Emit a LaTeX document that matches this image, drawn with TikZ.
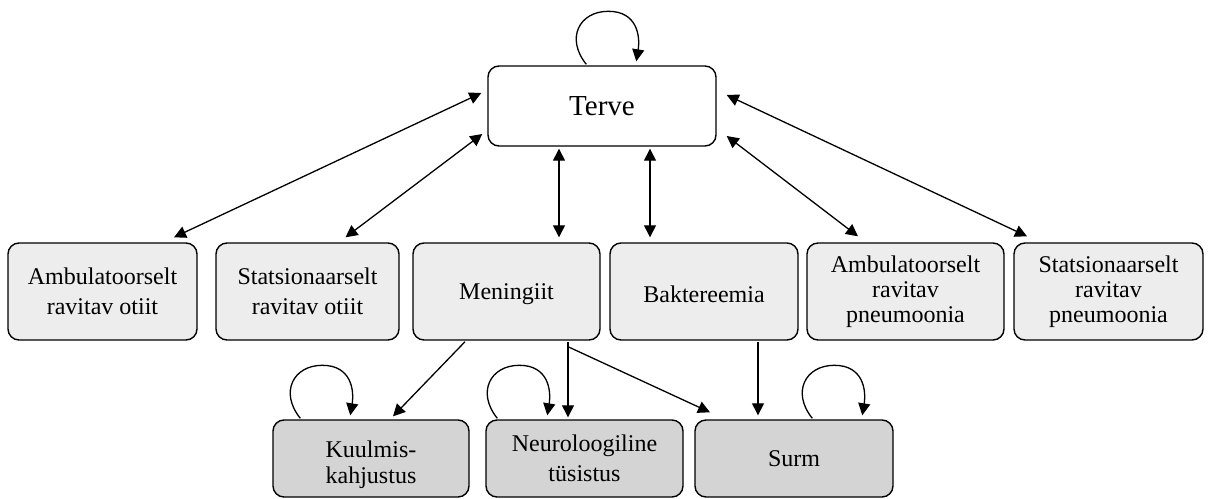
\documentclass[tikz,border=0pt]{standalone}
\usepackage{fontspec}
\setmainfont{Liberation Serif}
\usetikzlibrary{arrows.meta,calc}
\definecolor{rowa}{RGB}{237,237,237}
\definecolor{rowb}{RGB}{212,212,212}
\newcommand{\myloop}[2]{\draw[arr] ($(#1.north west)+(#2,-1)$) .. controls +(-21,-26) and +(-29,0) .. ($(#1.north west)+(#2+22,-54)$) .. controls +(29,0) and +(4,-25) .. ($(#1.north west)+(#2+50,-4)$);}
\begin{document}
\begin{tikzpicture}[x=1pt,y=-1pt,
  box/.style={draw=black,line width=1.4pt,rounded corners=11pt,inner sep=0pt,align=center,font=\fontsize{24}{30}\selectfont},
  boxa/.style={box,fill=rowa,minimum height=97pt},
  boxb/.style={box,fill=rowb,minimum height=77pt},
  arr/.style={line width=1.3pt,-{Triangle[length=12pt,width=12pt]}},
  darr/.style={line width=1.3pt,{Triangle[length=12pt,width=12pt]}-{Triangle[length=12pt,width=12pt]}}]
\useasboundingbox (0,0) rectangle (1210,498);
\node[box,fill=white,minimum width=228pt,minimum height=80pt,font=\fontsize{29}{34}\selectfont] (t) at (602,106) {Terve};
\node[boxa,minimum width=189pt] (b1) at (102.5,291.5) {Ambulatoorselt\\ravitav otiit};
\node[boxa,minimum width=183pt] (b2) at (307.5,291.5) {Statsionaarselt\\ravitav otiit};
\node[boxa,minimum width=187pt] (b3) at (506.5,291.5) {\rule{0pt}{22pt}Meningiit};
\node[boxa,minimum width=188pt] (b4) at (704,291.5) {\rule{0pt}{22pt}Baktereemia};
\node[boxa,minimum width=197pt,font=\fontsize{24}{25}\selectfont] (b5) at (905.5,291.5) {Ambulatoorselt\\ravitav\\pneumoonia};
\node[boxa,minimum width=189pt,font=\fontsize{24}{25}\selectfont] (b6) at (1108.5,291.5) {Statsionaarselt\\ravitav\\pneumoonia};
\node[boxb,minimum width=196pt,font=\fontsize{24}{26}\selectfont] (k) at (371,458.5) {\rule{0pt}{29pt}Kuulmis-\\kahjustus};
\node[boxb,minimum width=197pt,font=\fontsize{24}{30}\selectfont] (n) at (584.5,458.5) {Neuroloogiline\\tüsistus};
\node[boxb,minimum width=198pt] (s) at (794,458.5) {Surm};
% Terve connections
\draw[darr] ($(b1.north)+(71.5,-5)$) -- ($(t.west)+(-6,-13)$);
\draw[darr] ($(b2.north)+(38,-5)$) -- ($(t.west)+(-5,28)$);
\draw[darr] ($(b3.north)+(52.5,-5)$) -- ($(t.south)+(-43,2)$);
\draw[darr] ($(b4.north)+(-54,-5)$) -- ($(t.south)+(48,2)$);
\draw[darr] ($(b5.north)+(-47.5,-6)$) -- ($(t.east)+(10,30)$);
\draw[darr] ($(b6.north)+(-81.5,-6)$) -- ($(t.east)+(10,-11)$);
% lower
\draw[arr] ($(b3.south)+(-41.5,1)$) -- ($(k.north)+(22,-3)$);
\draw[arr] ($(b3.south)+(61.5,1)$) -- ($(n.north)+(-16.5,-2)$);
\draw[arr] ($(b3.south)+(61.5,6)$) -- ($(s.north)+(-84,-7)$);
\draw[arr] ($(b4.south)+(54,1)$) -- ($(s.north)+(-36,-4)$);
% self loops
\myloop{t}{99}
\myloop{k}{28}
\myloop{n}{12}
\myloop{s}{118}
\end{tikzpicture}
\end{document}
